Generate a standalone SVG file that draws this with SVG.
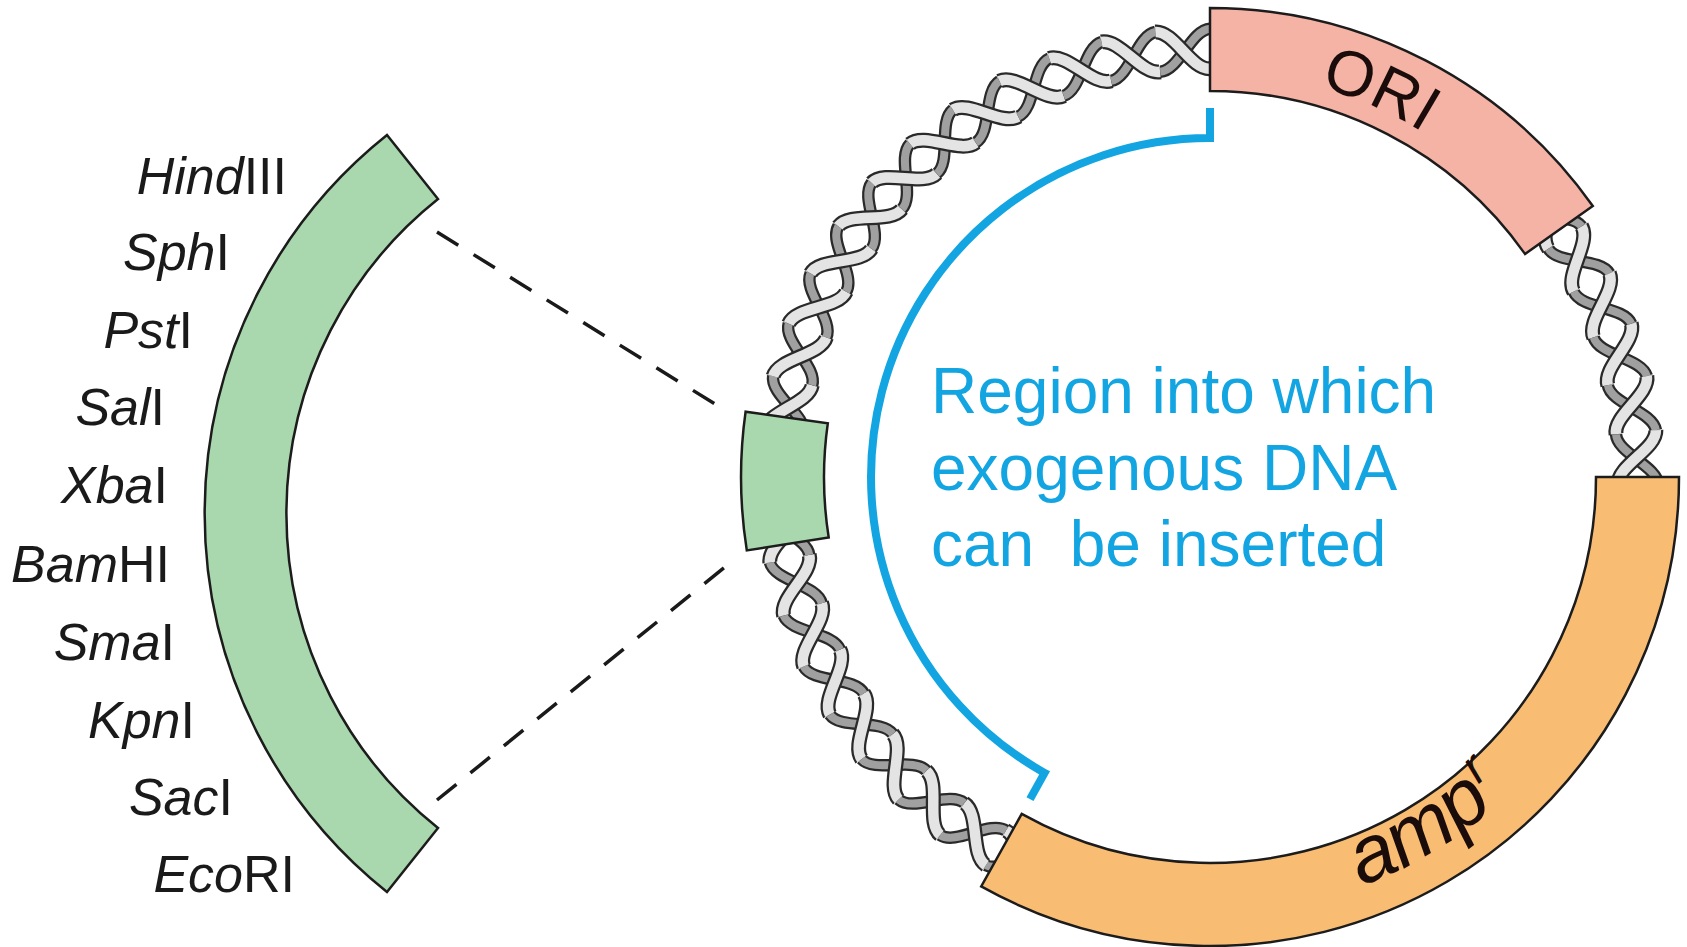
<svg xmlns="http://www.w3.org/2000/svg" width="1687" height="947" viewBox="0 0 1687 947">
<style>
  .lbl { font-family: "Liberation Sans", Arial, sans-serif; font-size: 52px; fill: #1a1a1a; text-anchor: end; }
  .it { font-style: italic; }
  .box { stroke: #1c1c1c; stroke-width: 2.5; stroke-linejoin: miter; }
  .green { fill: #a9d8ae; }
  .ori { fill: #f5b3a6; }
  .amp { fill: #f9bc73; }
  .dash { fill: none; stroke: #1a1a1a; stroke-width: 3.5; stroke-dasharray: 25 18; }
  .bracket { fill: none; stroke: #12a5e2; stroke-width: 8; stroke-linejoin: miter; }
  .note { font-family: "Liberation Sans", Arial, sans-serif; font-size: 64px; fill: #12a5e2; }
  .band { font-family: "Liberation Sans", Arial, sans-serif; fill: #1a0c0a; }
  .hx-line { fill: none; stroke: #2a2a2a; }
  .hx-back { fill: none; stroke: #a0a0a0; stroke-width: 8; }
  .hx-front { fill: none; stroke: #e4e4e4; stroke-width: 10.5; }
</style>
<defs>
  <!-- one half-turn of the double helix, centred at the top of the plasmid ring -->
  <g id="hx">
    <path class="hx-line" stroke-width="12.5" d="M1185.08,69.5 C1204.11,69.5 1218.34,29.5 1237.37,29.5"/>
    <path class="hx-back" d="M1185.08,69.5 C1204.11,69.5 1218.34,29.5 1237.37,29.5"/>
    <path class="hx-line" stroke-width="15" d="M1182.63,29.5 C1201.66,29.5 1215.89,69.5 1234.92,69.5"/>
    <path class="hx-front" d="M1182.63,29.5 C1201.66,29.5 1215.89,69.5 1234.92,69.5"/>
  </g>
  <!-- baseline arcs for the labels written inside the ring -->
  <path id="ori-arc" d="M1071.5,96.4 A405,405 0 0 1 1590.6,338.5"/>
  <path id="amp-arc" d="M1060.9,886.7 A436,436 0 0 0 1639.4,552.7"/>
</defs>

<!-- plasmid DNA backbone -->
<g id="helix">
  <use href="#hx" transform="rotate(-80.5 1210 477)"/>
  <use href="#hx" transform="rotate(-73.5 1210 477)"/>
  <use href="#hx" transform="rotate(-66.5 1210 477)"/>
  <use href="#hx" transform="rotate(-59.5 1210 477)"/>
  <use href="#hx" transform="rotate(-52.5 1210 477)"/>
  <use href="#hx" transform="rotate(-45.5 1210 477)"/>
  <use href="#hx" transform="rotate(-38.5 1210 477)"/>
  <use href="#hx" transform="rotate(-31.5 1210 477)"/>
  <use href="#hx" transform="rotate(-24.5 1210 477)"/>
  <use href="#hx" transform="rotate(-17.5 1210 477)"/>
  <use href="#hx" transform="rotate(-10.5 1210 477)"/>
  <use href="#hx" transform="rotate(-3.5 1210 477)"/>
  <use href="#hx" transform="rotate(3.5 1210 477)"/>
  <use href="#hx" transform="rotate(52.5 1210 477)"/>
  <use href="#hx" transform="rotate(59.5 1210 477)"/>
  <use href="#hx" transform="rotate(66.5 1210 477)"/>
  <use href="#hx" transform="rotate(73.5 1210 477)"/>
  <use href="#hx" transform="rotate(80.5 1210 477)"/>
  <use href="#hx" transform="rotate(87.5 1210 477)"/>
  <use href="#hx" transform="rotate(206.5 1210 477)"/>
  <use href="#hx" transform="rotate(213.5 1210 477)"/>
  <use href="#hx" transform="rotate(220.5 1210 477)"/>
  <use href="#hx" transform="rotate(227.5 1210 477)"/>
  <use href="#hx" transform="rotate(234.5 1210 477)"/>
  <use href="#hx" transform="rotate(241.5 1210 477)"/>
  <use href="#hx" transform="rotate(248.5 1210 477)"/>
  <use href="#hx" transform="rotate(255.5 1210 477)"/>
  <use href="#hx" transform="rotate(262.5 1210 477)"/>
</g>

<!-- origin of replication -->
<g id="ori">
  <path class="box ori" d="M1210,8 A469,469 0 0 1 1592.8,206 L1525,253.9 A386,386 0 0 0 1210,91 Z"/>
  <text class="band" font-size="64"><textPath href="#ori-arc" startOffset="309" text-anchor="middle">ORI</textPath></text>
</g>

<!-- ampicillin resistance gene -->
<g id="ampr">
  <path class="box amp" d="M1679,477 A469,469 0 0 1 981.2,886.4 L1021.7,813.9 A386,386 0 0 0 1596,477 Z"/>
  <text class="band it" font-size="80"><textPath href="#amp-arc" startOffset="394" text-anchor="middle">amp<tspan font-size="48" dx="3" dy="-28">r</tspan></textPath></text>
</g>

<!-- multiple cloning site on the plasmid -->
<g id="mcs-small">
  <path class="box green" d="M745.6,411.7 A469,469 0 0 0 746.8,550.4 L828.7,537.4 A386,386 0 0 1 827.8,423.3 Z"/>
</g>

<!-- insertion region bracket -->
<g id="insert-region">
  <path class="bracket" d="M1210,108 L1210,138 A339,339 0 0 0 1044.6,772.9 L1030,799.1"/>
  <text class="note" x="931" y="413">Region into which</text>
  <text class="note" x="931" y="490">exogenous DNA</text>
  <text class="note" x="931" y="566" xml:space="preserve">can  be inserted</text>
</g>

<!-- enlarged multiple cloning site -->
<g id="mcs-large">
  <path class="box green" d="M387,135 A484,484 0 0 0 387,892 L438,828 A402,402 0 0 1 438,199 Z"/>
</g>

<g id="sites">
  <text class="lbl" x="287" y="194"><tspan class="it">Hind</tspan>III</text>
  <text class="lbl" x="230" y="270"><tspan class="it">Sph</tspan>I</text>
  <text class="lbl" x="193" y="348"><tspan class="it">Pst</tspan>I</text>
  <text class="lbl" x="165" y="425"><tspan class="it">Sal</tspan>I</text>
  <text class="lbl" x="168" y="503"><tspan class="it">Xba</tspan>I</text>
  <text class="lbl" x="170" y="582"><tspan class="it">Bam</tspan>HI</text>
  <text class="lbl" x="175" y="660"><tspan class="it">Sma</tspan>I</text>
  <text class="lbl" x="195" y="738"><tspan class="it">Kpn</tspan>I</text>
  <text class="lbl" x="233" y="815"><tspan class="it">Sac</tspan>I</text>
  <text class="lbl" x="295" y="892"><tspan class="it">Eco</tspan>RI</text>
</g>

<g id="connectors">
  <path class="dash" d="M437,232 L715,404"/>
  <path class="dash" d="M437,800 L725,567"/>
</g>
</svg>
